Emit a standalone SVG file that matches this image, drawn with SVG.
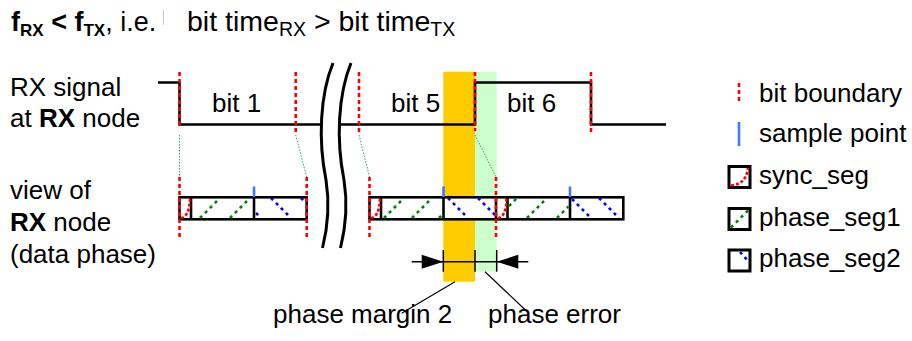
<svg xmlns="http://www.w3.org/2000/svg" width="912" height="341" viewBox="0 0 912 341">
<style>
text{font-family:"Liberation Sans",Arial,sans-serif;font-size:26px;fill:#000}
text.t1{font-size:27px}
text.t2{font-size:28.5px}
.b{font-weight:bold}
.sig{fill:none;stroke:#000;stroke-width:2.6}
.brk{fill:none;stroke:#000;stroke-width:3}
.bd{stroke:#f00;stroke-width:2.6;stroke-dasharray:4 3;fill:none}
.gd{stroke:#3a9a6a;stroke-width:1;stroke-dasharray:1.5 1.5;fill:none}
.cell{fill:#fff;stroke:#000;stroke-width:2.6}
.sep{stroke:#000;stroke-width:2.6}
.h1{stroke:#008000;stroke-width:2.6;stroke-dasharray:3 4}
.h2{stroke:#0000ff;stroke-width:2.6;stroke-dasharray:3 4}
.hs{stroke:#f00;stroke-width:2.6;stroke-dasharray:3 2;fill:none}
.sp{stroke:#4477ff;stroke-width:2.6}
.thin{stroke:#000;stroke-width:1.2;fill:none}
.tick{stroke:#000;stroke-width:1.5}
.ico{fill:#fff;stroke:#000;stroke-width:3}
</style>

<g id="title">
  <text class="t1" x="11" y="31"><tspan class="b">f</tspan><tspan class="b" font-size="17" dy="5">RX</tspan><tspan class="b" dy="-5"> &lt; f</tspan><tspan class="b" font-size="17" dy="5">TX</tspan><tspan dy="-5">, i.e.</tspan></text>
  <line x1="163.5" y1="10" x2="163.5" y2="25" stroke="#c8c8c8" stroke-width="1"/>
  <text class="t2" x="187" y="31">bit time<tspan font-size="19.5" dy="5">RX</tspan><tspan dy="-5"> &gt; bit time</tspan><tspan font-size="19.5" dy="5">TX</tspan></text>
</g>

<g id="row-labels">
  <text x="10" y="96">RX signal</text>
  <text x="10" y="127">at <tspan class="b">RX</tspan> node</text>
  <text x="10" y="199">view of</text>
  <text x="10" y="231"><tspan class="b">RX</tspan> node</text>
  <text x="10" y="263">(data phase)</text>
</g>

<g id="bands">
  <rect x="443.3" y="71.7" width="31.7" height="210" fill="#ffcc00"/>
  <rect x="475" y="71.7" width="21.7" height="200" fill="#ccffcc"/>
</g>

<g id="rx-signal">
  <polyline class="sig" points="158,82.5 179.5,82.5 179.5,124.5 322,124.5"/>
  <polyline class="sig" points="338,124.5 475,124.5 475,82.5 591,82.5 591,124.5 666,124.5"/>
  <text x="212" y="112">bit 1</text>
  <text x="391" y="112">bit 5</text>
  <text x="507" y="112">bit 6</text>
</g>

<g id="time-break">
  <path class="brk" d="M333,63 C320,95 318,140 326,180 C330,205 327,230 322.5,248"/>
  <path class="brk" d="M351,63 C338,95 336,140 344,180 C348,205 345,230 340.5,248"/>
</g>

<g id="connectors">
  <line class="gd" x1="179.5" y1="135" x2="179.5" y2="177"/>
  <line class="gd" x1="295.7" y1="135" x2="306.7" y2="177"/>
  <line class="gd" x1="359" y1="135" x2="369.5" y2="177"/>
  <line class="gd" x1="475" y1="135" x2="496" y2="177"/>
  <line class="thin" x1="455" y1="281.7" x2="401.7" y2="313.3"/>
  <line class="thin" x1="485" y1="271.7" x2="528.3" y2="312.7"/>
</g>

<g id="bit-cells-1">
  <rect class="cell" x="179.5" y="197.3" width="127.2" height="22"/>
  <line class="sep" x1="191" y1="197.3" x2="191" y2="219.3"/>
  <line class="sep" x1="254" y1="197.3" x2="254" y2="219.3"/>
  <path class="hs" d="M181,218 Q189,217 190,199"/>
  <line class="h1" x1="200" y1="218" x2="220" y2="198"/>
  <line class="h1" x1="230" y1="218" x2="250" y2="198"/>
  <line class="h2" x1="256" y1="213" x2="261" y2="218"/>
  <line class="h2" x1="271" y1="198" x2="291" y2="218"/>
  <line class="h2" x1="301" y1="198" x2="305.5" y2="202.5"/>
  <line class="sp" x1="254" y1="186.5" x2="254" y2="197"/>
</g>

<g id="bit-cells-2">
  <rect class="cell" x="369.5" y="197.3" width="253.8" height="22"/>
  <line class="sep" x1="381" y1="197.3" x2="381" y2="219.3"/>
  <line class="sep" x1="443.5" y1="197.3" x2="443.5" y2="219.3"/>
  <line class="sep" x1="496" y1="197.3" x2="496" y2="219.3"/>
  <line class="sep" x1="507.5" y1="197.3" x2="507.5" y2="219.3"/>
  <line class="sep" x1="570" y1="197.3" x2="570" y2="219.3"/>
  <path class="hs" d="M371,218 Q379,217 380,199"/>
  <path class="hs" d="M498,218 Q506,217 506.5,199"/>
  <line class="h1" x1="384" y1="218" x2="404" y2="198"/>
  <line class="h1" x1="412" y1="218" x2="432" y2="198"/>
  <line class="h1" x1="439" y1="218" x2="442" y2="215"/>
  <line class="h2" x1="448" y1="198" x2="468" y2="218"/>
  <line class="h2" x1="478" y1="198" x2="495" y2="215"/>
  <line class="h1" x1="509" y1="206" x2="517" y2="198"/>
  <line class="h1" x1="527" y1="218" x2="547" y2="198"/>
  <line class="h1" x1="557" y1="218" x2="568.5" y2="206.5"/>
  <line class="h2" x1="572" y1="199" x2="591" y2="218"/>
  <line class="h2" x1="599" y1="198" x2="619" y2="218"/>
  <line class="sp" x1="443.5" y1="186.5" x2="443.5" y2="197"/>
  <line class="sp" x1="570" y1="186.5" x2="570" y2="197"/>
</g>

<g id="bit-boundaries">
  <line class="bd" x1="179.5" y1="72" x2="179.5" y2="128"/>
  <line class="bd" x1="295.7" y1="72" x2="295.7" y2="133"/>
  <line class="bd" x1="359" y1="72" x2="359" y2="133"/>
  <line class="bd" x1="475" y1="72" x2="475" y2="131"/>
  <line class="bd" x1="591" y1="72" x2="591" y2="133"/>
  <line class="bd" x1="179.5" y1="177" x2="179.5" y2="237"/>
  <line class="bd" x1="306.7" y1="177" x2="306.7" y2="237"/>
  <line class="bd" x1="369.5" y1="177" x2="369.5" y2="237"/>
  <line class="bd" x1="496" y1="177" x2="496" y2="237"/>
</g>

<g id="dimension">
  <line class="tick" x1="411.7" y1="261.7" x2="528.3" y2="261.7"/>
  <polygon points="443.3,261.7 421.7,254.7 421.7,268.7" fill="#000"/>
  <polygon points="496.7,261.7 518.3,254.7 518.3,268.7" fill="#000"/>
  <line class="tick" x1="443.3" y1="250" x2="443.3" y2="271.7"/>
  <line class="tick" x1="475" y1="250" x2="475" y2="271.7"/>
  <line class="tick" x1="496.7" y1="250" x2="496.7" y2="271.7"/>
</g>

<g id="label-phase-margin-2">
  <text x="273" y="323">phase margin 2</text>
</g>
<g id="label-phase-error">
  <text x="488" y="323">phase error</text>
</g>

<g id="legend-bit-boundary">
  <line class="bd" x1="739" y1="83" x2="739" y2="103"/>
  <text x="759" y="102">bit boundary</text>
</g>
<g id="legend-sample-point">
  <line class="sp" x1="739" y1="122" x2="739" y2="146"/>
  <text x="759" y="142">sample point</text>
</g>
<g id="legend-sync-seg">
  <rect class="ico" x="729" y="166.5" width="21" height="21"/>
  <path class="hs" d="M731,185.5 Q746,184.5 748,168"/>
  <text x="759" y="184">sync_seg</text>
</g>
<g id="legend-phase-seg1">
  <rect class="ico" x="729" y="208.5" width="21" height="21"/>
  <line class="h1" x1="731" y1="227.5" x2="748" y2="210.5"/>
  <text x="759" y="226">phase_seg1</text>
</g>
<g id="legend-phase-seg2">
  <rect class="ico" x="729" y="250" width="21" height="21"/>
  <line class="h2" x1="740" y1="252" x2="748" y2="261"/>
  <text x="759" y="267">phase_seg2</text>
</g>
</svg>
